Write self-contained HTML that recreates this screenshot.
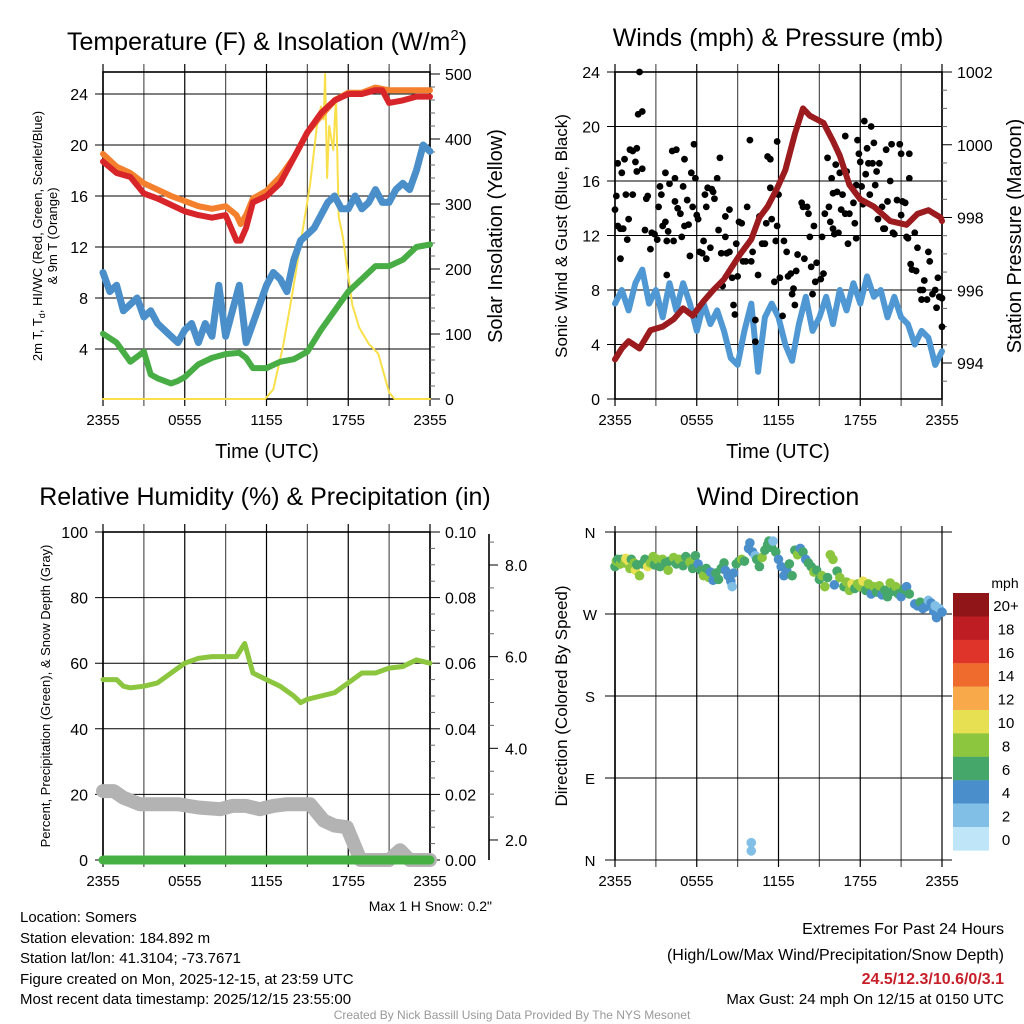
<!DOCTYPE html>
<html><head><meta charset="utf-8">
<style>
html,body{margin:0;padding:0;background:#fff;}
svg{display:block;font-family:"Liberation Sans",Arial,sans-serif;}
</style></head>
<body>
<svg id="chart" width="1024" height="1024" viewBox="0 0 1024 1024" xmlns="http://www.w3.org/2000/svg">
<rect width="1024" height="1024" fill="#fff"/>
<g id="layer"></g>
<!-- titles -->
<text x="267" y="50" font-size="25" text-anchor="middle">Temperature (F) &amp; Insolation (W/m<tspan font-size="15" dy="-10">2</tspan><tspan dy="10">)</tspan></text>
<text x="778" y="46" font-size="25" text-anchor="middle">Winds (mph) &amp; Pressure (mb)</text>
<text x="265" y="505" font-size="25" text-anchor="middle">Relative Humidity (%) &amp; Precipitation (in)</text>
<text x="778" y="505" font-size="25" text-anchor="middle">Wind Direction</text>
<!-- axis titles -->
<text x="267" y="458" font-size="20" text-anchor="middle">Time (UTC)</text>
<text x="778" y="458" font-size="20" text-anchor="middle">Time (UTC)</text>
<text transform="translate(42,236) rotate(-90)" font-size="13" text-anchor="middle">2m T, T<tspan font-size="9" dy="3">d</tspan><tspan dy="-3">, HI/WC (Red, Green, Scarlet/Blue)</tspan></text>
<text transform="translate(57,236) rotate(-90)" font-size="13" text-anchor="middle">&amp; 9m T (Orange)</text>
<text transform="translate(502,236) rotate(-90)" font-size="20" text-anchor="middle">Solar Insolation (Yellow)</text>
<text transform="translate(567,236) rotate(-90)" font-size="17" text-anchor="middle">Sonic Wind &amp; Gust (Blue, Black)</text>
<text transform="translate(1021,236) rotate(-90)" font-size="20" text-anchor="middle">Station Pressure (Maroon)</text>
<text transform="translate(50,696) rotate(-90)" font-size="13" text-anchor="middle">Percent, Precipitation (Green), &amp; Snow Depth (Gray)</text>
<text transform="translate(567,696) rotate(-90)" font-size="17" text-anchor="middle">Direction (Colored By Speed)</text>
<text x="492" y="911" font-size="14" text-anchor="end">Max 1 H Snow: 0.2"</text>
<text x="1005" y="588" font-size="14" text-anchor="middle">mph</text>
<!-- info text -->
<g font-size="15">
<text x="20" y="922">Location: Somers</text>
<text x="20" y="943">Station elevation: 184.892 m</text>
<text x="20" y="963">Station lat/lon: 41.3104; -73.7671</text>
<text x="20" y="984">Figure created on Mon, 2025-12-15, at 23:59 UTC</text>
<text x="20" y="1004">Most recent data timestamp: 2025/12/15 23:55:00</text>
</g>
<g font-size="16" text-anchor="end">
<text x="1004" y="934">Extremes For Past 24 Hours</text>
<text x="1004" y="960">(High/Low/Max Wind/Precipitation/Snow Depth)</text>
<text x="1004" y="984" fill="#c8202a" font-weight="bold">24.5/12.3/10.6/0/3.1</text>
<text x="1004" y="1004" font-size="15">Max Gust: 24 mph On 12/15 at 0150 UTC</text>
</g>
<text x="512" y="1019" font-size="12" fill="#999" text-anchor="middle">Created By Nick Bassill Using Data Provided By The NYS Mesonet</text>
</svg>
<script>
// ---------- data ----------
const timeTickLabels = ["2355","0555","1155","1755","2355"];
const tempTicks = [4,8,12,16,20,24];
const solarTicks = [0,100,200,300,400,500];
const tT = [0,1,2,3,4,5,6,7,8,9,9.8,10.1,10.5,11,12,13,14,15,16,17,18,19,20,20.5,21,22,23,24];
const redT = [18.7,17.8,17.5,16.2,15.8,15.3,14.8,14.5,14.3,14.5,12.5,12.5,13.5,15.5,16,17,19,21,22.5,23.5,24,24,24.3,24.3,23.3,23.5,23.8,23.8];
const orangeT = [19.3,18.3,17.8,17,16.5,16,15.6,15.2,15,15.2,14.5,13.8,14.5,15.8,16.4,17.5,19,21,22.3,23.5,24.1,24.1,24.5,24.4,24.3,24.3,24.3,24.3];
const hT = [0,0.5,1,1.5,2,2.5,3,3.5,4,4.5,5,5.5,6,6.5,7,7.5,8,8.5,9,9.5,10,10.5,11,11.5,12,12.5,13,13.5,14,14.5,15,15.5,16,16.5,17,17.5,18,18.5,19,19.5,20,20.5,21,21.5,22,22.5,23,23.5,24];
const blueT = [10,8.5,9,7,7.5,8,6.5,7,6,5.5,5,4.5,5.5,6,4.5,6,5,9,5,7,9,4.5,6,7.5,9,10,9.5,8.5,11,12.5,13,13.5,14.5,15.5,16,15,15,16,15,15.5,16.5,15.5,15.5,16.5,17,16.5,18,20,19.5];
const dewT = [0,1,2,3,3.5,4,5,5.5,6,7,8,9,10,10.5,11,12,13,14,15,16,17,18,19,20,21,22,23,24];
const dewV = [5.2,4.5,3,3.8,2,1.7,1.3,1.5,1.8,2.8,3.3,3.6,3.7,3.3,2.5,2.5,3,3.2,3.8,5.5,7,8.5,9.5,10.5,10.5,11,12,12.2];
const solT = [0,11.9,12.5,13.2,13.8,14.5,15.2,15.7,16.0,16.2,16.3,16.45,16.6,16.9,17.1,17.3,17.6,18.3,18.8,19.5,20.2,20.6,21.0,21.4,24];
const solV = [0,0,15,80,150,240,330,420,450,430,500,340,420,383,465,280,250,145,110,85,70,40,10,0,0];

const windTicks = [0,4,8,12,16,20,24];
const presTicks = [994,996,998,1000,1002];
const windV = [7,8,6.5,8.5,9.5,7,8,6,8.5,6.5,8.5,7,5,7,5.5,6.5,5,3,2.5,5,7,2,6,7,6,4,2.8,5.5,7.5,5,6,7.5,5.5,8,6.5,8.5,7,9,7.5,8,6,7.5,6,5.5,4,5,4.5,2.5,3.5];
const presT = [0,0.5,1,1.8,2.6,3.5,4.3,5,5.7,6.5,7.2,8,9.2,10,10.6,11.2,11.9,12.5,13.2,13.8,14.3,15.3,16,16.5,17.2,18,19,20.2,21.4,22.2,23,23.9,24];
const presV = [994.1,994.4,994.6,994.4,994.9,995.0,995.2,995.5,995.3,995.7,996.0,996.3,997.0,997.4,998.0,998.3,998.8,999.3,1000.3,1001.0,1000.8,1000.6,1000.1,999.7,998.9,998.5,998.3,997.9,997.8,998.1,998.2,998.0,997.9];
const gustT = [0.0,0.1,0.2,0.2,0.4,0.4,0.5,0.6,0.7,0.8,0.9,1.0,1.1,1.3,1.6,1.3,1.5,1.6,1.8,1.7,2.0,2.0,2.2,2.3,2.4,2.6,2.7,2.9,3.1,3.2,3.3,3.4,3.5,3.7,3.7,3.8,3.8,3.9,4.0,4.2,4.3,4.4,4.4,4.5,4.6,4.8,4.9,5.0,5.1,5.1,5.3,5.4,5.5,5.6,5.7,5.8,5.9,6.0,6.1,6.2,6.4,6.5,6.6,6.7,6.7,6.8,7.0,7.1,7.2,7.3,7.5,7.6,7.7,7.8,7.9,8.1,8.1,8.2,8.4,8.4,8.6,8.7,8.8,8.9,9.0,9.1,9.3,9.4,9.6,9.7,9.9,10.0,10.1,10.3,10.3,10.5,10.6,10.8,11.0,11.1,11.2,11.4,11.4,11.5,11.7,11.8,11.9,11.9,12.0,12.1,12.3,12.4,12.6,12.7,12.9,13.0,13.1,13.2,13.3,13.4,13.7,13.8,13.9,14.1,14.2,14.3,14.4,14.5,14.6,14.7,14.8,15.1,15.2,15.3,15.4,15.6,15.7,15.8,15.9,16.0,16.0,16.1,16.2,16.3,16.4,16.5,16.6,16.7,16.9,16.9,17.0,17.1,17.2,17.5,17.6,17.7,17.7,17.8,17.9,18.0,18.1,18.2,18.3,18.4,18.5,18.6,18.7,18.8,18.9,19.0,19.1,19.2,19.3,19.4,19.6,19.7,19.8,19.9,20.0,20.2,20.3,20.4,20.5,20.7,20.9,21.0,21.0,21.1,21.3,21.4,21.5,21.6,21.6,21.7,21.8,22.0,22.1,22.2,22.4,22.5,22.6,22.7,22.9,23.0,23.1,23.3,23.5,23.6,23.7,23.8,24.0,24.0];
const gustV = [13.9,14.9,12.7,17.3,12.5,10.3,16.6,12.5,17.6,15.0,11.7,13.2,18.3,18.2,18.4,15.0,17.4,16.7,24.0,20.9,21.1,16.9,12.4,14.7,14.9,11.0,12.2,12.1,11.7,14.1,15.6,15.0,12.7,16.6,13.0,11.6,9.1,12.3,15.8,18.2,11.6,14.5,16.2,18.3,14.0,13.6,11.9,15.6,12.7,17.6,14.6,12.8,10.5,16.6,14.1,18.7,16.2,13.5,13.2,10.8,10.7,11.6,15.0,10.3,14.1,15.5,11.1,15.4,15.2,14.7,16.2,12.4,17.7,10.7,8.3,11.9,13.4,10.7,13.9,10.8,8.9,6.9,6.2,11.4,9.0,13.0,12.9,10.1,10.1,14.1,19.0,10.1,10.8,5.8,4.2,9.1,13.4,11.4,11.4,12.9,17.8,17.6,15.5,13.2,8.6,11.6,18.9,12.7,15.0,8.9,6.1,11.6,10.8,9.0,9.2,7.7,8.1,6.9,9.4,10.6,14.4,14.1,10.3,14.1,13.6,11.9,9.7,7.7,12.7,8.6,10.0,8.8,11.9,9.2,13.6,17.7,14.1,13.0,16.2,12.5,15.1,12.1,17.2,15.2,12.2,16.6,13.9,15.0,13.6,19.3,16.7,11.4,13.6,14.4,12.9,11.8,15.7,19.0,18.0,17.4,15.6,14.3,20.4,16.5,18.4,17.3,15.0,20.0,17.3,18.8,15.7,16.7,13.2,17.3,14.1,12.5,12.5,18.3,14.5,16.0,18.7,12.2,12.1,14.6,18.7,13.5,18.0,14.5,14.4,11.9,11.8,18.0,16.2,9.9,9.5,12.2,9.4,11.1,8.0,7.3,8.0,8.7,7.3,10.8,10.1,7.7,8.0,6.7,8.9,7.5,5.3,7.4];

const pctTicks = [0,20,40,60,80,100];
const precipTicks = ["0.00","0.02","0.04","0.06","0.08","0.10"];
const snowTicks = [2,4,6,8];
const rhT = [0,1,1.5,2,3,4,5,6,7,8,9,9.8,10.4,11,12,13,14,14.5,15,16,17,18,19,20,21,22,23,24];
const rhV = [55,55,53,52.5,53,54,57,60,61.5,62,62,62,66,57,55,53,50,48,49,50,51,54,57,57,58.5,59,61,60];
const snowT = [0,0.8,1.5,2.7,4,5.5,7,8.6,9.5,10.5,11.5,12.5,13.5,14.5,15.2,16.2,17,17.9,18.5,18.9,20,21,21.8,22.5,24];
const snowPct = [21,21,19,17,17,17,16,15.5,16.5,16.5,15.5,16.5,17,17,17,12,10.5,10,4,0,0,0,3,0,0];
const precipT = [0,24];
const precipV = [0,0];

const dirLabels = ["N","E","S","W","N"];
const dirT = [0,0.1,0.2,0.4,0.5,0.7,0.8,1.0,1.1,1.2,1.4,1.5,1.6,1.8,2.0,2.2,2.4,2.6,2.8,2.9,3.1,3.3,3.5,3.7,3.9,4.0,4.3,4.5,4.7,5.0,5.2,5.5,5.7,5.9,6.1,6.3,6.5,6.7,6.9,7.0,7.2,7.4,7.6,7.8,8.0,8.1,8.3,8.5,8.6,8.7,8.9,9.1,9.3,9.5,9.8,9.9,10.1,10.3,10.4,10.6,10.8,11.0,11.2,11.3,11.5,11.6,11.8,12.0,12.2,12.4,12.6,12.8,13.0,13.2,13.4,13.6,13.8,14.0,14.2,14.4,14.6,14.8,15.0,15.2,15.4,15.6,15.8,16.0,16.1,16.3,16.5,16.8,17.0,17.2,17.4,17.6,17.8,18.0,18.2,18.4,18.6,18.8,19.0,19.2,19.4,19.6,19.8,20.0,20.2,20.4,20.6,20.8,21.0,21.2,21.4,21.6,22.0,22.2,22.4,22.6,22.8,23.0,23.2,23.4,23.5,23.6,23.8,24.0,10.0,10.0];
const dirD = [322,328,330,325,330,326,331,328,320,330,326,318,324,312,325,330,322,326,333,324,330,322,330,326,318,328,332,325,330,323,333,327,320,334,325,318,312,320,310,316,307,315,308,320,326,318,312,306,300,315,325,328,330,328,342,348,338,334,330,322,332,340,346,350,343,350,338,330,322,312,318,325,312,340,335,342,338,330,326,322,316,318,308,312,300,310,335,330,302,317,310,300,305,296,303,298,303,300,306,296,303,292,300,294,301,291,296,289,304,295,300,292,289,297,300,292,281,279,283,276,278,285,282,273,279,266,276,272,19,10];
const dirS = [6,8,6,8,6,8,10,10,8,6,8,10,6,8,6,6,10,8,8,6,8,6,8,6,8,6,8,6,8,6,6,8,6,6,4,6,8,6,8,4,4,6,6,6,6,4,4,4,2,4,6,6,8,6,4,4,4,2,6,6,8,6,6,6,6,2,6,4,4,4,4,6,6,6,8,4,6,4,6,6,8,6,6,8,8,6,8,8,4,6,8,6,8,8,10,6,8,8,10,6,8,4,8,6,8,4,6,6,8,6,8,6,4,6,4,6,4,4,6,4,4,2,4,4,2,4,2,4,2,2];
const cbLabels = ["20+","18","16","14","12","10","8","6","4","2","0"];
const cbColors = ["#8f1519","#bd1d23","#de3429","#ef6a2d","#f8a949","#e8e053","#8cc63f","#46a76b","#4a8fcc","#82bfe6","#bfe6f8"];

// ---------- scales ----------
const P1 = {x0:103,x1:430,top:72,bot:399};
const P2 = {x0:615,x1:942,top:72,bot:399};
const P3 = {x0:103,x1:430,top:532,bot:860};
const P4 = {x0:615,x1:942,top:532,bot:860};
const xs = (P,t)=> P.x0 + t*(P.x1-P.x0)/24;
const y1 = v => 400 - v*12.75;
const y1s = v => 399 - v*0.65;
const y2 = v => 399 - v*13.625;
const y2p = v => 363 - (v-994)*36.375;
const y3 = v => 860 - v*3.28;
const y3snow = v => 565 + (8-v)*45.83;
const y4 = d => 860 - d*328/360;

const NS="http://www.w3.org/2000/svg";
const layer=document.getElementById('layer');
function mk(tag,attrs,parent){const e=document.createElementNS(NS,tag);for(const k in attrs)e.setAttribute(k,attrs[k]);(parent||layer).appendChild(e);return e;}
function txt(x,y,s,size,anchor,parent){const e=mk('text',{x:x,y:y,'font-size':size,'text-anchor':anchor},parent);e.textContent=s;return e;}

function frame(P,name,hTicksVals,yf,labels,lx){
  const g=mk('g',{});
  
  
  for(let i=0;i<=8;i++){const x=xs(P,i*3);
    mk('line',{x1:x,y1:P.top-8,x2:x,y2:P.bot+7,stroke:(i%2? '#555':'#000'),'stroke-width':1.2},g);}
  hTicksVals.forEach((v,i)=>{const y=yf(v);
    if(y>P.top+1&&y<P.bot-1) mk('line',{x1:P.x0-8,y1:y,x2:P.x1,y2:y,stroke:'#000','stroke-width':1},g);
    else mk('line',{x1:P.x0-8,y1:y,x2:P.x0,y2:y,stroke:'#000','stroke-width':1},g);
    txt(lx,y+6,labels[i],16,'end',g);
  });
  mk('rect',{x:P.x0,y:P.top,width:P.x1-P.x0,height:P.bot-P.top,fill:'none',stroke:'#000','stroke-width':1.6},g);
  timeTickLabels.forEach((s,i)=>{txt(xs(P,i*6),P.bot+26,s,15,'middle',g);});
  return g;
}
function rightTicks(P,vals,yf,labels,minor,minorF){
  const g=mk('g',{});
  
  
  minor.forEach(v=>{const y=minorF(v);mk('line',{x1:P.x1,y1:y,x2:P.x1+5,y2:y,stroke:'#666','stroke-width':1},g);});
  vals.forEach((v,i)=>{const y=yf(v);mk('line',{x1:P.x1,y1:y,x2:P.x1+10,y2:y,stroke:'#000','stroke-width':1},g);
    txt(P.x1+15,y+6,labels[i],16,'start',g);});
}
function line(P,ts,vs,yf,color,w,name){
  const pts=ts.map((t,i)=>xs(P,t).toFixed(1)+','+yf(vs[i]).toFixed(1)).join(' ');
  const e=mk('polyline',{points:pts,fill:'none',stroke:color,'stroke-width':w,'stroke-linejoin':'round','stroke-linecap':'round'});
  
  
  return e;
}

// ---------- panel 1 ----------
frame(P1,'temperature',tempTicks,y1,tempTicks.map(String),88);
rightTicks(P1,solarTicks,y1s,solarTicks.map(String),[20,40,60,80,120,140,160,180,220,240,260,280,320,340,360,380,420,440,460,480],y1s);
line(P1,solT,solV,y1s,'#f9e04b',2,'solar-insolation-line');
line(P1,dewT,dewV,y1,'#47ad44',6,'dewpoint-line');
line(P1,hT,blueT,y1,'#4a8fc9',7,'wind-chill-line');
line(P1,tT,orangeT,y1,'#f47f2c',6,'temp-9m-line');
line(P1,tT,redT,y1,'#d7252a',6,'temp-2m-line');

// ---------- panel 2 ----------
frame(P2,'winds',windTicks,y2,windTicks.map(String),600);
rightTicks(P2,presTicks,y2p,presTicks.map(String),[993.5,994.5,995,995.5,996.5,997,997.5,998.5,999,999.5,1000.5,1001,1001.5],y2p);
line(P2,hT,windV,y2,'#4f98d3',6,'sonic-wind-line');
gustT.forEach((t,i)=>{
  const c=mk('circle',{cx:xs(P2,t),cy:y2(gustV[i]),r:3.4,fill:'#000'});
  
  
});
line(P2,presT,presV,y2p,'#9b1b1e',6,'pressure-line');

// ---------- panel 3 ----------
frame(P3,'humidity',pctTicks,y3,pctTicks.map(String),88);
rightTicks(P3,pctTicks,y3,precipTicks,[10,30,50,70,90,5,15,25,35,45,55,65,75,85,95],y3);
line(P3,snowT,snowPct,y3,'#b3b3b3',14,'snow-depth-line');
line(P3,precipT,precipV,y3,'#47b043',9,'precipitation-line');
line(P3,rhT,rhV,y3,'#8cc63f',5,'relative-humidity-line');
{
  const g=mk('g',{});
  
  
  mk('line',{x1:489,y1:534,x2:489,y2:860,stroke:'#000','stroke-width':1.6},g);
  for(let v=1.5;v<=8.6;v+=0.5){const y=y3snow(v);if(y<534||y>860)continue;
    const major=snowTicks.indexOf(v)>=0;
    mk('line',{x1:489,y1:y,x2:major?498:494,y2:y,stroke:major?'#000':'#666','stroke-width':1},g);}
  snowTicks.forEach(v=>{txt(505,y3snow(v)+6,v.toFixed(1),16,'start',g);});
}

// ---------- panel 4 ----------
{
  const g=mk('g',{});
  
  
  for(let i=0;i<=8;i++){const x=xs(P4,i*3);
    mk('line',{x1:x,y1:P4.top-6,x2:x,y2:P4.bot+7,stroke:(i%2?'#555':'#000'),'stroke-width':1.2},g);}
  dirLabels.forEach((s,i)=>{const y=y4(i*90);
    mk('line',{x1:P4.x0-10,y1:y,x2:P4.x1+10,y2:y,stroke:'#000','stroke-width':1},g);
    txt(590,y+6,s,15,'middle',g);});
  mk('line',{x1:P4.x0,y1:P4.top,x2:P4.x0,y2:P4.bot,stroke:'#000','stroke-width':1.6},g);
  timeTickLabels.forEach((s,i)=>{txt(xs(P4,i*6),P4.bot+26,s,15,'middle',g);});
}
dirT.forEach((t,i)=>{
  const c=mk('circle',{cx:xs(P4,t),cy:y4(dirD[i]),r:4.8,fill:cbColors[10-Math.min(10,Math.floor(dirS[i]/2))]});
  
  
});
cbLabels.forEach((s,i)=>{
  const r=mk('rect',{x:953,y:593+i*23.4,width:36,height:23.6,fill:cbColors[i]});
  
  
  const t=txt(1006,593+i*23.4+18,s,15,'middle');
  
  
});
</script>
</body></html>
